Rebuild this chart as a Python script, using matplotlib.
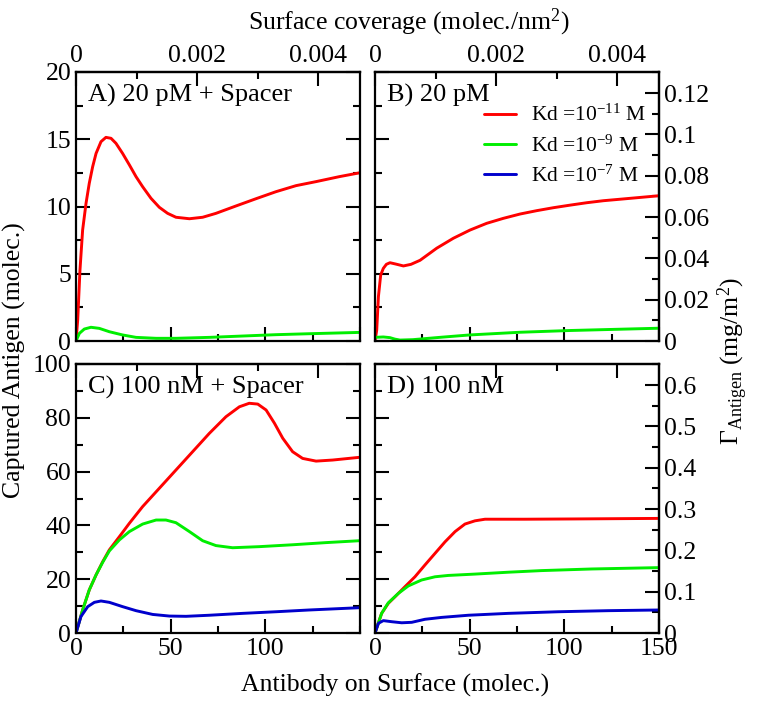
import matplotlib
matplotlib.use("Agg")
import matplotlib.pyplot as plt
from matplotlib.ticker import MultipleLocator, FixedLocator, FuncFormatter

plt.rcParams['font.family'] = ['Liberation Serif', 'DejaVu Serif']
plt.rcParams['mathtext.fontset'] = 'custom'
plt.rcParams['mathtext.rm'] = 'Liberation Serif'
plt.rcParams['mathtext.it'] = 'Liberation Serif:italic'

# unit conversions
COVERAGE_PER_MOLEC = 0.00469 / 150    # molec./nm^2 per antibody
MGM2_PER_MOLEC = 0.00651               # mg/m^2 per captured antigen

legend_labels = [r'Kd =10$^{-11}$ M', r'Kd =10$^{-9}$ M', r'Kd =10$^{-7}$ M']
colors = ['#ff0000', '#00ee00', '#0000cc']

# A) 20 pM + Spacer
a_red_x = [0, 0.9, 2.1, 3.5, 5.3, 7.0, 8.8, 10.6, 13.2, 15.8, 18.5, 21.1, 24.6, 28.2, 31.7, 35.2,
           39.6, 44, 48.4, 52.8, 59.9, 66.9, 73.9, 84.5, 95.1, 105.6, 116.2, 126.8, 139.1, 150]
a_red_y = [0, 1.56, 5.28, 8.25, 10.24, 11.72, 12.96, 13.95, 14.82, 15.14, 15.07, 14.7, 13.95, 13.09,
           12.22, 11.47, 10.61, 9.94, 9.49, 9.2, 9.09, 9.2, 9.49, 10.04, 10.58, 11.1, 11.55, 11.85,
           12.22, 12.51]
a_grn_x = [0, 1.8, 4.4, 7.9, 12.3, 17.6, 24.6, 31.7, 42.3, 52.8, 70.4, 88, 105.6, 123, 150]
a_grn_y = [0, 0.57, 0.89, 1.02, 0.94, 0.69, 0.45, 0.27, 0.2, 0.2, 0.27, 0.37, 0.47, 0.54, 0.64]
a_blu_x = [0, 150]
a_blu_y = [0, 0]

# B) 20 pM
b_red_x = [0, 0.9, 1.8, 3.0, 4.4, 6.0, 7.9, 11, 15, 19, 23.8, 32.6, 41.4, 50.2, 59, 67.8, 76.6,
           85.4, 94.2, 103, 111.8, 120.6, 131, 150]
b_red_y = [0, 0.8, 3.3, 4.9, 5.4, 5.7, 5.82, 5.72, 5.58, 5.7, 6.0, 6.9, 7.64, 8.25, 8.75, 9.12,
           9.44, 9.69, 9.91, 10.1, 10.28, 10.43, 10.56, 10.8]
b_grn_x = [0, 4.4, 7.9, 10.5, 13.2, 20, 35, 50, 76.5, 103, 125, 150]
b_grn_y = [0.27, 0.3, 0.25, 0.14, 0.07, 0.1, 0.28, 0.45, 0.65, 0.78, 0.86, 0.95]
b_blu_x = [0, 150]
b_blu_y = [0, 0]

# C) 100 nM + Spacer
c_red_x = [0, 3.5, 7.0, 10.6, 14.1, 17.6, 22.9, 28.2, 35.2, 44, 52.8, 61.6, 70.4, 79.2, 86.3, 91.5,
           96, 100.4, 104.8, 109.2, 114.4, 119.7, 126.8, 135.6, 149.6]
c_red_y = [0, 8.55, 16, 21.6, 26.5, 30.9, 35.8, 40.8, 47, 53.8, 60.6, 67.4, 74.2, 80.4, 84.1, 85.4,
           85.1, 82.9, 78, 72.4, 67.4, 64.9, 63.9, 64.3, 65.3]
c_grn_x = [0, 3.5, 7.0, 10.6, 14.1, 17.6, 22.9, 28.2, 35.2, 42.3, 47.5, 52.8, 59.9, 66.9, 73.9,
           82.7, 96.8, 114.4, 132, 149.6]
c_grn_y = [0, 8.55, 16, 21.6, 26.3, 30.5, 34.6, 37.7, 40.5, 42, 42, 41, 37.7, 34.3, 32.5, 31.7,
           32.1, 32.8, 33.6, 34.3]
c_blu_x = [0, 2.6, 6.2, 9.7, 13.2, 17.6, 24.6, 31.7, 40.5, 49.3, 58.1, 70.4, 88, 105.6, 123, 149.6]
c_blu_y = [0, 6.1, 9.8, 11.4, 11.9, 11.4, 9.8, 8.3, 6.9, 6.3, 6.2, 6.6, 7.3, 7.9, 8.55, 9.4]

# D) 100 nM
d_red_x = [0, 3.5, 7.0, 10.6, 15.8, 21.1, 26.4, 31.7, 37, 42.3, 47.5, 52.8, 58.1, 79.2, 105.6, 149.6]
d_red_y = [0, 7.3, 11, 13.5, 17.2, 20.9, 25.3, 29.6, 33.9, 37.7, 40.5, 41.7, 42.3, 42.3, 42.4, 42.6]
d_grn_x = [0, 3.5, 7.0, 12.3, 17.6, 24.6, 31.7, 38.7, 52.8, 70.4, 88, 114.4, 149.6]
d_grn_y = [0, 7.3, 11.2, 14.7, 17.5, 19.7, 20.9, 21.4, 21.9, 22.6, 23.2, 23.8, 24.3]
d_blu_x = [0, 1.8, 4.4, 8.8, 14.1, 19.4, 26.4, 35.2, 49.3, 70.4, 96.8, 123, 149.6]
d_blu_y = [0, 3.6, 4.6, 4.2, 3.8, 3.97, 5.1, 5.8, 6.6, 7.3, 7.9, 8.3, 8.55]

panels = [
    dict(text='A) 20 pM + Spacer', ymax=20, ymaj=5,
         series=[(a_red_x, a_red_y), (a_grn_x, a_grn_y), (a_blu_x, a_blu_y)]),
    dict(text='B) 20 pM', ymax=20, ymaj=5,
         series=[(b_red_x, b_red_y), (b_grn_x, b_grn_y), (b_blu_x, b_blu_y)]),
    dict(text='C) 100 nM + Spacer', ymax=100, ymaj=20,
         series=[(c_red_x, c_red_y), (c_grn_x, c_grn_y), (c_blu_x, c_blu_y)]),
    dict(text='D) 100 nM', ymax=100, ymaj=20,
         series=[(d_red_x, d_red_y), (d_grn_x, d_grn_y), (d_blu_x, d_blu_y)]),
]

W, H = 760, 702
boxes = [(76, 72, 360, 341), (375, 72, 659, 341), (76, 364, 360, 633), (375, 364, 659, 633)]

fig = plt.figure(figsize=(7.6, 7.02), dpi=100)

def fmt(v, pos):
    s = ('%.3f' % v).rstrip('0').rstrip('.')
    return '0' if s in ('0', '-0') else s

tick_kw = dict(direction='in', width=1.5, labelsize=18.5)

def set_len(a):
    a.tick_params(which='major', length=10)
    a.tick_params(which='minor', length=5)

for i, (p, (x0, y0, x1, y1)) in enumerate(zip(panels, boxes)):
    ax = fig.add_axes([x0 / W, 1 - y1 / H, (x1 - x0) / W, (y1 - y0) / H])
    for (xs, ys), c in zip(p['series'], colors):
        ax.plot(xs, ys, color=c, lw=2.1, solid_capstyle='round', solid_joinstyle='round')
    ax.set_xlim(0, 150)
    ax.set_ylim(0, p['ymax'])
    for s in ax.spines.values():
        s.set_linewidth(1.6)
    ax.xaxis.set_major_locator(MultipleLocator(50))
    ax.xaxis.set_minor_locator(MultipleLocator(25))
    ax.yaxis.set_major_locator(MultipleLocator(p['ymaj']))
    ax.yaxis.set_minor_locator(MultipleLocator(p['ymaj'] / 2))
    ax.tick_params(which='both', top=False, right=(i in (0, 2)), **tick_kw)
    set_len(ax)
    if i in (0, 1):
        ax.set_xticklabels([])
    if i in (1, 3):
        ax.set_yticklabels([])
    if i == 2:
        ax.xaxis.set_major_locator(FixedLocator([0, 50, 100]))

    top = ax.secondary_xaxis('top', functions=(lambda x: x * COVERAGE_PER_MOLEC,
                                               lambda c: c / COVERAGE_PER_MOLEC))
    top.xaxis.set_major_locator(FixedLocator([0, 0.002, 0.004]))
    top.xaxis.set_minor_locator(FixedLocator([0.001, 0.003]))
    top.xaxis.set_major_formatter(FuncFormatter(fmt))
    top.tick_params(which='both', **tick_kw)
    set_len(top)
    top.spines['top'].set_linewidth(1.6)
    if i in (2, 3):
        top.set_xticklabels([])

    if i in (1, 3):
        right = ax.secondary_yaxis('right', functions=(lambda y: y * MGM2_PER_MOLEC,
                                                       lambda g: g / MGM2_PER_MOLEC))
        step = 0.02 if i == 1 else 0.1
        right.yaxis.set_major_locator(MultipleLocator(step))
        right.yaxis.set_minor_locator(MultipleLocator(step / 2))
        right.yaxis.set_major_formatter(FuncFormatter(fmt))
        right.tick_params(which='both', **tick_kw)
        set_len(right)
        right.spines['right'].set_linewidth(1.6)

    ax.text(0.042, 0.955, p['text'], transform=ax.transAxes, fontsize=19,
            ha='left', va='top')

    if i == 1:
        ax.legend(legend_labels, loc='upper right', bbox_to_anchor=(1.0, 0.925),
                  frameon=False, fontsize=15.5, handlelength=1.45,
                  handletextpad=0.7, labelspacing=0.42, borderpad=0.1)

fig.text(14 / W, 1 - 360 / H, 'Captured Antigen (molec.)', rotation=90,
         fontsize=18.5, ha='center', va='center')
fig.text(395 / W, 1 - 685 / H, 'Antibody on Surface (molec.)',
         fontsize=18.5, ha='center', va='center')
fig.text(409 / W, 1 - 22 / H, r'Surface coverage (molec./nm$^2$)',
         fontsize=18.5, ha='center', va='center')
fig.text(733 / W, 1 - 361 / H, r'$\Gamma_{\mathrm{Antigen}}$ (mg/m$^2$)', rotation=90,
         fontsize=18.5, ha='center', va='center')

fig.savefig('out.png', dpi=100)
